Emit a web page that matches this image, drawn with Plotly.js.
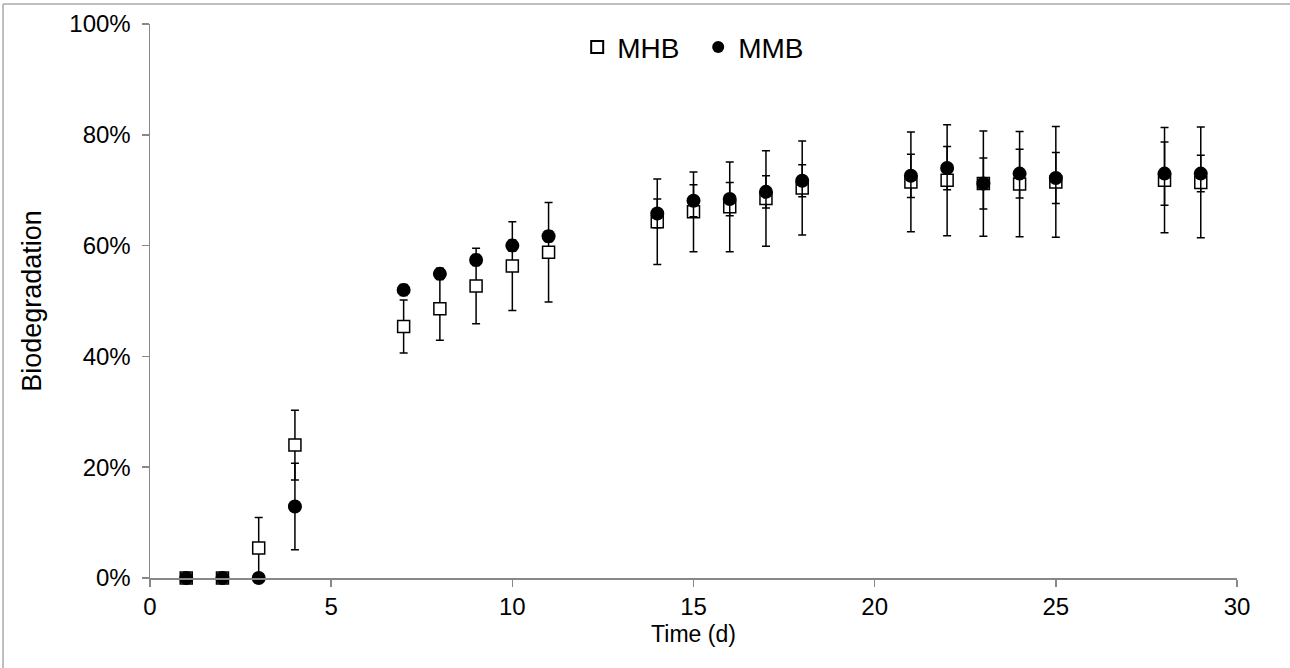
<!DOCTYPE html>
<html>
<head>
<meta charset="utf-8">
<script src="https://cdn.plot.ly/plotly-3.0.1.min.js"></script>
<style>
  html, body { margin: 0; padding: 0; background: #ffffff; }
  #chart { width: 1290px; height: 668px; }
</style>
</head>
<body>
<div id="chart"></div>
<script>
// Time in days
const days = [1, 2, 3, 4, 7, 8, 9, 10, 11, 14, 15, 16, 17, 18, 21, 22, 23, 24, 25, 28, 29];

// MHB biodegradation (%) and error
const mhbValues = [0, 0, 5.4, 24.0, 45.4, 48.6, 52.7, 56.3, 58.8, 64.3, 66.1, 67.0, 68.5, 70.4, 71.5, 71.8, 71.2, 71.1, 71.5, 71.8, 71.4];
const mhbErrors = [0, 0, 5.5, 6.3, 4.8, 5.7, 6.8, 8.0, 9.0, 7.7, 7.2, 8.1, 8.6, 8.5, 9.0, 10.0, 9.5, 9.5, 10.0, 9.5, 10.0];

// MMB biodegradation (%) and error
const mmbValues = [0, 0, 0, 12.9, 52.0, 54.9, 57.4, 60.0, 61.7, 65.8, 68.1, 68.4, 69.7, 71.7, 72.6, 74.0, 71.2, 73.0, 72.2, 73.0, 73.0];
const mmbErrors = [0, 0, 0, 7.8, 1.0, 1.0, 1.0, 1.0, 1.0, 2.6, 2.9, 3.0, 2.9, 2.9, 3.9, 3.9, 4.6, 4.4, 4.6, 5.7, 3.3];

const seriesNames = ['MHB', 'MMB'];
const yTickValues = [0, 20, 40, 60, 80, 100];
const xTickValues = [0, 5, 10, 15, 20, 25, 30];

const FONT = 'Liberation Sans, Arial, sans-serif';

const traces = [
  {
    x: days, y: mhbValues, name: seriesNames[0],
    type: 'scatter', mode: 'markers', cliponaxis: false,
    marker: { symbol: 'square', size: 12, color: '#ffffff', line: { color: '#000000', width: 1.5 } },
    error_y: { type: 'data', array: mhbErrors, visible: true, color: '#000000', thickness: 1.5, width: 4 }
  },
  {
    x: days, y: mmbValues, name: seriesNames[1],
    type: 'scatter', mode: 'markers', cliponaxis: false,
    marker: { symbol: 'circle', size: 14, color: '#000000', line: { width: 0 } },
    error_y: { type: 'data', array: mmbErrors, visible: true, color: '#000000', thickness: 1.5, width: 4 }
  }
];

const layout = {
  width: 1290, height: 668,
  margin: { l: 150, r: 53, t: 24, b: 90, pad: 0 },
  paper_bgcolor: '#ffffff', plot_bgcolor: '#ffffff',
  font: { family: FONT, color: '#000000', size: 24 },
  showlegend: true,
  legend: {
    orientation: 'h', x: 0.393, xanchor: 'left', y: 0.958, yanchor: 'middle',
    font: { family: FONT, size: 28, color: '#000000' },
    bgcolor: 'rgba(0,0,0,0)', itemsizing: 'constant', entrywidth: 76, entrywidthmode: 'pixels'
  },
  xaxis: {
    range: [0, 30], tickvals: xTickValues, ticktext: xTickValues.map(String),
    showgrid: false, zeroline: false, showline: true, linecolor: '#888888', linewidth: 1.5,
    ticks: 'outside', ticklen: 7, tickcolor: '#888888', tickwidth: 1.5,
    tickfont: { family: FONT, size: 24, color: '#000000' },
    title: { text: 'Time (d)', font: { family: FONT, size: 23, color: '#000000' }, standoff: 6 }
  },
  yaxis: {
    range: [0, 100], tickvals: yTickValues, ticktext: yTickValues.map(v => v + '%'),
    showgrid: false, zeroline: false, showline: true, linecolor: '#888888', linewidth: 1.5,
    ticks: 'outside', ticklen: 7, tickcolor: '#888888', tickwidth: 1.5, ticklabelstandoff: 6,
    tickfont: { family: FONT, size: 24, color: '#000000' },
    title: { text: 'Biodegradation', font: { family: FONT, size: 27, color: '#000000' }, standoff: 20 }
  },
  shapes: [
    { type: 'line', xref: 'paper', yref: 'paper', x0: -0.1352, x1: 1.05, y0: 1.0361, y1: 1.0361, line: { color: '#aaaaaa', width: 1.5 } },
    { type: 'line', xref: 'paper', yref: 'paper', x0: -0.1352, x1: -0.1352, y0: 1.0361, y1: -0.17, line: { color: '#aaaaaa', width: 1.5 } }
  ]
};

Plotly.newPlot('chart', traces, layout, { displayModeBar: false, staticPlot: true });
</script>
</body>
</html>
